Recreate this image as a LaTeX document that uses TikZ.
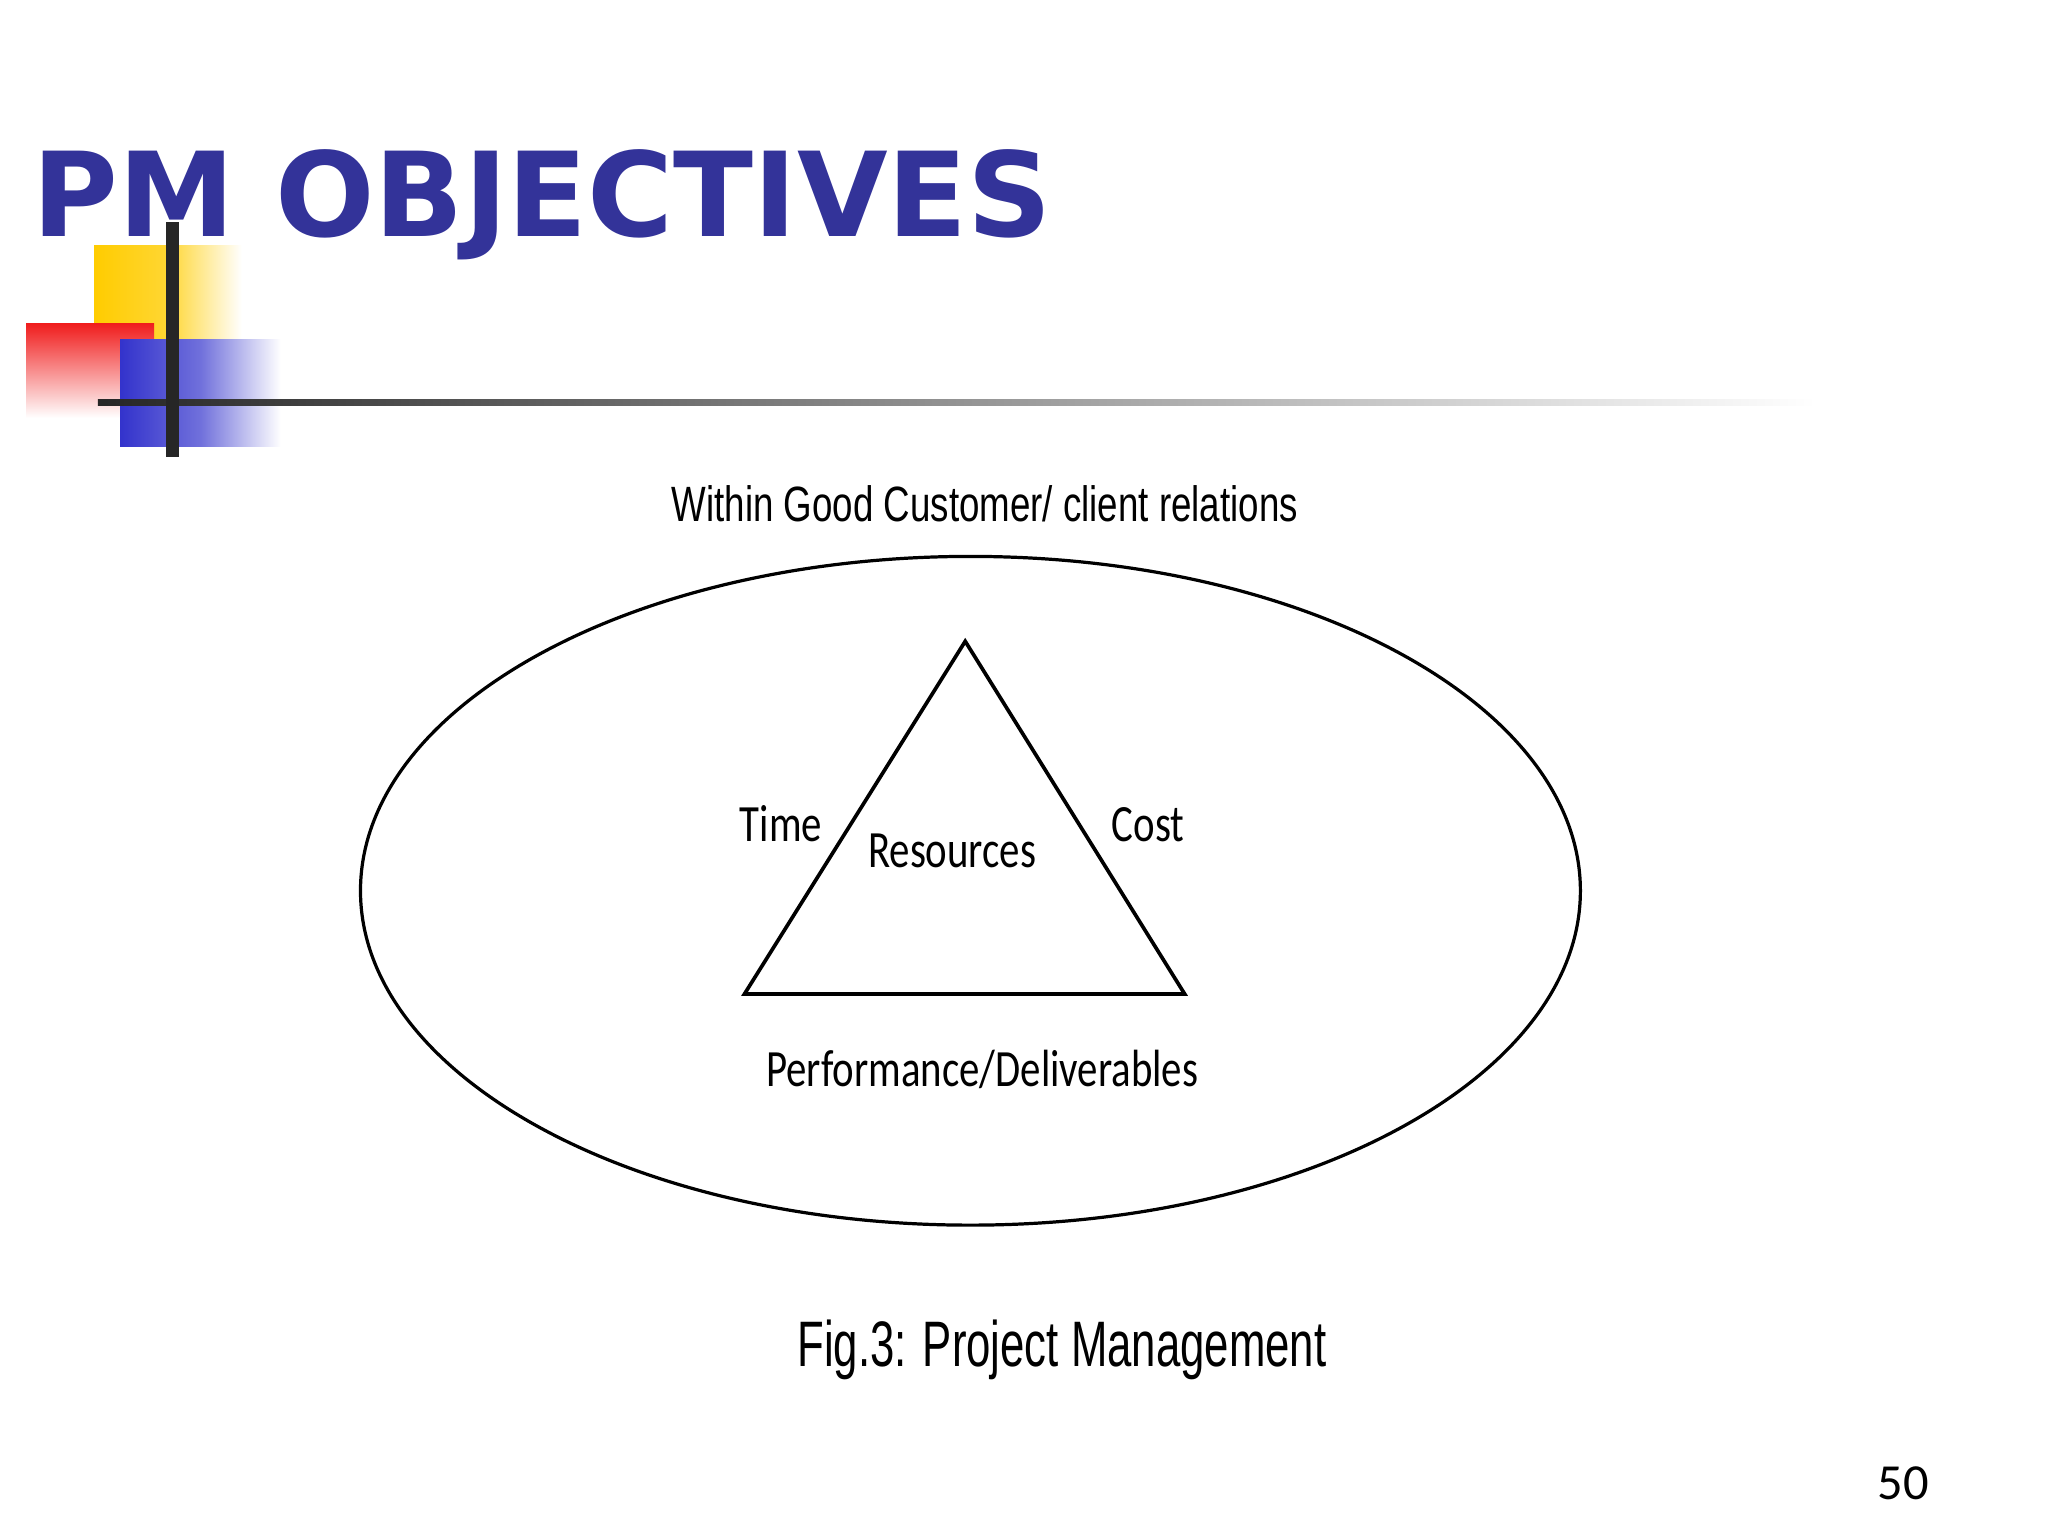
\documentclass[tikz,border=0pt]{standalone}
\usepackage{fontspec}
\usepackage{graphicx}
\setmainfont{Carlito}
\newfontfamily\titlefont{DejaVu Sans}
\newfontfamily\narrowfont{Liberation Sans}
\definecolor{titleblue}{RGB}{51,51,153}
\definecolor{sqyellow}{RGB}{255,204,0}
\definecolor{sqblue}{RGB}{51,51,204}
\definecolor{sqred}{RGB}{240,30,30}
\tikzset{
  lab/.style={font=\fontsize{11.4}{14}\selectfont, inner sep=0pt},
  narrow/.style={font=\narrowfont\fontsize{10.8}{13}\selectfont, inner sep=0pt},
}
\newcommand{\sq}[1]{\scalebox{0.78}[1]{#1}}
\newcommand{\nq}[1]{\scalebox{0.74}[1]{#1}}
\begin{document}
\begin{tikzpicture}[x=0.01cm,y=-0.01cm]
\useasboundingbox (0,0) rectangle (1568,1176);
\fill[white] (0,0) rectangle (1568,1176);
% decoration
\shade[left color=sqyellow, right color=white, middle color=sqyellow!80!white] (72,188) rectangle (185,260);
\shade[shading angle=45, top color=sqred, bottom color=white] (20,248) rectangle (118,320);
\shade[left color=sqblue, right color=white, middle color=sqblue!70!white] (92,260) rectangle (215,342);
\shade[left color=black!85, right color=white] (75,305.5) rectangle (1390,310.5);
\draw[line width=3pt, black!85] (132,170) -- (132,350);
% title
\node[anchor=base west, inner sep=0pt, text=titleblue, font=\titlefont\bfseries\fontsize{25.5}{30}\selectfont] (title) at (24,181) {PM OBJECTIVES};
% diagram
\node[narrow, anchor=base] (outer) at (754,399) {\nq{Within Good Customer/ client relations}};
\draw[line width=0.7pt] (743,682) ellipse [x radius=467, y radius=256];
\coordinate (A) at (739,491);
\coordinate (B) at (570,761);
\coordinate (C) at (907,761);
\draw[line width=0.8pt] (A) -- (B) -- (C) -- cycle;
\node[lab, anchor=base] (time) at (598,644) {\sq{Time}};
\node[lab, anchor=base] (cost) at (879,644) {\sq{Cost}};
\node[lab, anchor=base] (res) at (729,664) {\sq{Resources}};
\node[lab, anchor=base] (perf) at (752,832) {\sq{Performance/Deliverables}};
\node[anchor=base, inner sep=0pt, font=\narrowfont\fontsize{14}{17}\selectfont] (fig) at (813,1046) {\scalebox{0.68}[1]{Fig.3: Project Management}};
\node[anchor=base, inner sep=0pt, font=\fontsize{11}{13}\selectfont] (pg) at (1457,1148) {50};
\end{tikzpicture}
\end{document}
